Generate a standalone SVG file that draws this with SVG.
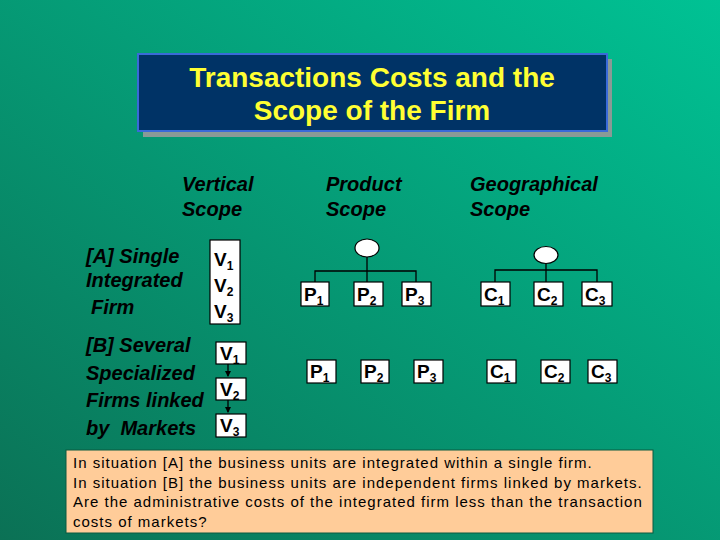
<svg xmlns="http://www.w3.org/2000/svg" width="720" height="540" viewBox="0 0 720 540">
<defs>
<linearGradient id="bg" x1="1" y1="0" x2="0" y2="1">
<stop offset="0" stop-color="#00c294"/>
<stop offset="1" stop-color="#0b7155"/>
</linearGradient>
<marker id="arr" viewBox="0 0 6 6" refX="5" refY="3" markerWidth="5" markerHeight="5" orient="auto">
<path d="M0,0 L6,3 L0,6 z" fill="#000"/>
</marker>
</defs>
<style>
.lbl{font-family:"Liberation Sans",Arial,sans-serif;font-weight:bold;font-style:italic;font-size:20px;fill:#000}
.box{fill:#fff;stroke:#000;stroke-width:1.2}
.bt{font-family:"Liberation Sans",Arial,sans-serif;font-weight:bold;font-size:19px;fill:#000}
.sub{font-size:12px;font-weight:bold}
.ln{stroke:#000;stroke-width:1.3;fill:none}
.note{font-family:"Liberation Sans",Arial,sans-serif;font-size:15px;letter-spacing:1px;fill:#000}
.title{font-family:"Liberation Sans",Arial,sans-serif;font-weight:bold;font-size:28px;fill:#ffff33}
</style>
<rect width="720" height="540" fill="url(#bg)"/>

<g id="title">
<rect x="143" y="59" width="469" height="78" fill="#8a9a96"/>
<rect x="138" y="54" width="469" height="77" fill="#003366" stroke="#3a6ad8" stroke-width="2"/>
<text class="title" x="372" y="87" text-anchor="middle">Transactions Costs and the</text>
<text class="title" x="372" y="120" text-anchor="middle">Scope of the Firm</text>
</g>

<g id="headers">
<text class="lbl" x="182" y="191">Vertical</text>
<text class="lbl" x="182" y="216">Scope</text>
<text class="lbl" x="326" y="191">Product</text>
<text class="lbl" x="326" y="216">Scope</text>
<text class="lbl" x="470" y="191">Geographical</text>
<text class="lbl" x="470" y="216">Scope</text>
</g>

<g id="labelA">
<text class="lbl" x="86" y="263">[A] Single</text>
<text class="lbl" x="86" y="287">Integrated</text>
<text class="lbl" x="91" y="314">Firm</text>
</g>
<g id="labelB">
<text class="lbl" x="86" y="352">[B] Several</text>
<text class="lbl" x="86" y="380">Specialized</text>
<text class="lbl" x="86" y="407">Firms linked</text>
<text class="lbl" x="86" y="435" xml:space="preserve">by  Markets</text>
</g>

<g id="vA">
<rect class="box" x="210" y="240" width="30" height="84"/>
<text class="bt" x="214" y="266">V<tspan class="sub" dy="4">1</tspan></text>
<text class="bt" x="214" y="292">V<tspan class="sub" dy="4">2</tspan></text>
<text class="bt" x="214" y="318">V<tspan class="sub" dy="4">3</tspan></text>
</g>

<g id="connectors">
<line class="ln" x1="228" y1="364" x2="228" y2="376" marker-end="url(#arr)"/>
<line class="ln" x1="228" y1="400" x2="228" y2="412" marker-end="url(#arr)"/>
<line class="ln" x1="367" y1="257" x2="367" y2="282"/>
<polyline class="ln" points="315,282 315,271 416,271 416,282"/>
<line class="ln" x1="546" y1="263" x2="546" y2="282"/>
<polyline class="ln" points="495,282 495,270 597,270 597,282"/>
</g>

<g id="vB1"><rect class="box" x="216" y="342" width="30" height="22"/><text class="bt" x="220" y="360">V<tspan class="sub" dy="4">1</tspan></text></g>
<g id="vB2"><rect class="box" x="216" y="378" width="30" height="22"/><text class="bt" x="220" y="396">V<tspan class="sub" dy="4">2</tspan></text></g>
<g id="vB3"><rect class="box" x="216" y="414" width="30" height="23"/><text class="bt" x="220" y="432">V<tspan class="sub" dy="4">3</tspan></text></g>

<g id="pRoot"><ellipse cx="367" cy="248" rx="12" ry="9" fill="#fff" stroke="#000" stroke-width="1.2"/></g>
<g id="pA1"><rect class="box" x="301" y="282" width="28" height="24"/><text class="bt" x="304" y="301">P<tspan class="sub" dy="4">1</tspan></text></g>
<g id="pA2"><rect class="box" x="354" y="282" width="29" height="24"/><text class="bt" x="357" y="301">P<tspan class="sub" dy="4">2</tspan></text></g>
<g id="pA3"><rect class="box" x="402" y="282" width="29" height="24"/><text class="bt" x="405" y="301">P<tspan class="sub" dy="4">3</tspan></text></g>
<g id="pB1"><rect class="box" x="307" y="360" width="29" height="23"/><text class="bt" x="310" y="378">P<tspan class="sub" dy="4">1</tspan></text></g>
<g id="pB2"><rect class="box" x="361" y="360" width="28" height="23"/><text class="bt" x="364" y="378">P<tspan class="sub" dy="4">2</tspan></text></g>
<g id="pB3"><rect class="box" x="414" y="360" width="29" height="23"/><text class="bt" x="417" y="378">P<tspan class="sub" dy="4">3</tspan></text></g>

<g id="cRoot"><ellipse cx="546" cy="255" rx="12" ry="8.5" fill="#fff" stroke="#000" stroke-width="1.2"/></g>
<g id="cA1"><rect class="box" x="481" y="282" width="29" height="24"/><text class="bt" x="484" y="301">C<tspan class="sub" dy="4">1</tspan></text></g>
<g id="cA2"><rect class="box" x="534" y="282" width="29" height="24"/><text class="bt" x="537" y="301">C<tspan class="sub" dy="4">2</tspan></text></g>
<g id="cA3"><rect class="box" x="582" y="282" width="30" height="24"/><text class="bt" x="585" y="301">C<tspan class="sub" dy="4">3</tspan></text></g>
<g id="cB1"><rect class="box" x="487" y="360" width="29" height="23"/><text class="bt" x="490" y="378">C<tspan class="sub" dy="4">1</tspan></text></g>
<g id="cB2"><rect class="box" x="541" y="360" width="29" height="23"/><text class="bt" x="544" y="378">C<tspan class="sub" dy="4">2</tspan></text></g>
<g id="cB3"><rect class="box" x="588" y="360" width="29" height="23"/><text class="bt" x="591" y="378">C<tspan class="sub" dy="4">3</tspan></text></g>

<g id="note">
<rect x="66" y="450" width="587" height="83" fill="#ffcc99" stroke="#0a5a40" stroke-width="1"/>
<text class="note" x="73" y="468">In situation [A] the business units are integrated within a single firm.</text>
<text class="note" x="73" y="488">In situation [B] the business units are independent firms linked by markets.</text>
<text class="note" x="73" y="507">Are the administrative costs of the integrated firm less than the transaction</text>
<text class="note" x="73" y="527">costs of markets?</text>
</g>
</svg>
